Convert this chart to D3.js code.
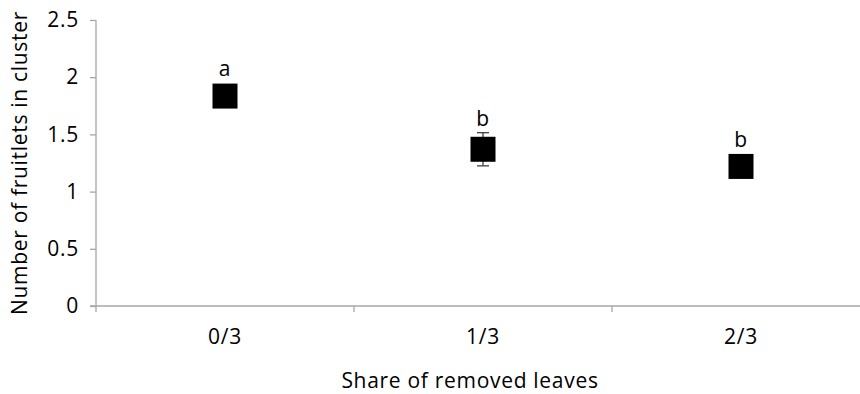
<!DOCTYPE html>
<html>
<head>
<meta charset="utf-8">
<script src="https://cdn.jsdelivr.net/npm/d3@7"></script>
<style>
  body { margin: 0; background: #fff; }
  text { font-family: "Open Sans", sans-serif; fill: #000; letter-spacing: 0.7px; }
</style>
</head>
<body>
<svg id="chart" width="860" height="394"></svg>
<script>
// data
var shares = ["0/3", "1/3", "2/3"];
var fruitlets = [1.835, 1.37, 1.22];
var errors = [0.04, 0.145, 0.05];
var letters = ["a", "b", "b"];
var yTicks = [0, 0.5, 1, 1.5, 2, 2.5];

var svg = d3.select("#chart");

// LAYOUT
var margin = { top: 20, left: 96 };
var plotH = 286;
var bandW = 258;
var fs = "21px";

var g = svg.append("g")
	.attr("transform", "translate(" + margin.left + "," + margin.top + ")");

var yScale = d3.scaleLinear()
	.domain([0, 2.5])
	.range([plotH, 0]);

var xScale = d3.scaleBand()
	.domain(shares)
	.range([0, bandW * shares.length]);

// y axis
var yAxis = d3.axisLeft(yScale)
	.tickValues(yTicks)
	.tickSize(6)
	.tickPadding(11)
	.tickFormat(d3.format("~g"));

var ya = g.append("g").call(yAxis);
ya.select(".domain").attr("stroke", "#a6a6a6").attr("stroke-width", 1.3)
	.attr("d", "M0," + plotH + "V0");
ya.selectAll(".tick line").attr("stroke", "#a6a6a6").attr("stroke-width", 1.3);
ya.selectAll(".tick text").style("font-size", fs).attr("fill", "#000");

// x axis, ticks on band edges
var xa = g.append("g")
	.attr("transform", "translate(0," + plotH + ")");
xa.append("line")
	.attr("x1", -6).attr("x2", bandW * shares.length)
	.attr("stroke", "#a6a6a6").attr("stroke-width", 1.3);
xa.selectAll("line.edge")
	.data(shares)
	.enter()
	.append("line")
	.attr("class", "edge")
	.attr("x1", (d) => xScale(d)).attr("x2", (d) => xScale(d))
	.attr("y1", 0).attr("y2", 6)
	.attr("stroke", "#a6a6a6").attr("stroke-width", 1.3);
xa.selectAll("text")
	.data(shares)
	.enter()
	.append("text")
	.attr("x", (d) => xScale(d) + xScale.bandwidth() / 2)
	.attr("y", 38)
	.attr("text-anchor", "middle")
	.style("font-size", fs)
	.text((d) => d);

// error bars
var cx = (i) => xScale(shares[i]) + xScale.bandwidth() / 2;
var eb = g.selectAll("g.err")
	.data(fruitlets)
	.enter()
	.append("g")
	.attr("class", "err")
	.attr("stroke", "#404040")
	.attr("stroke-width", 1.3);
eb.append("line")
	.attr("x1", (d, i) => cx(i)).attr("x2", (d, i) => cx(i))
	.attr("y1", (d, i) => yScale(d + errors[i]))
	.attr("y2", (d, i) => yScale(d - errors[i]));
eb.append("line")
	.attr("x1", (d, i) => cx(i) - 6).attr("x2", (d, i) => cx(i) + 6)
	.attr("y1", (d, i) => yScale(d + errors[i]))
	.attr("y2", (d, i) => yScale(d + errors[i]));
eb.append("line")
	.attr("x1", (d, i) => cx(i) - 6).attr("x2", (d, i) => cx(i) + 6)
	.attr("y1", (d, i) => yScale(d - errors[i]))
	.attr("y2", (d, i) => yScale(d - errors[i]));

// square markers
var sz = 25;
g.selectAll("rect.pt")
	.data(fruitlets)
	.enter()
	.append("rect")
	.attr("class", "pt")
	.attr("x", (d, i) => cx(i) - sz / 2)
	.attr("y", (d) => yScale(d) - sz / 2)
	.attr("width", sz)
	.attr("height", sz)
	.attr("fill", "#000");

// significance letters
g.selectAll("text.letter")
	.data(fruitlets)
	.enter()
	.append("text")
	.attr("class", "letter")
	.attr("x", (d, i) => cx(i))
	.attr("y", (d, i) => yScale(d + Math.max(errors[i], 0.11)) - 7)
	.attr("text-anchor", "middle")
	.style("font-size", fs)
	.text((d, i) => letters[i]);

// axis titles
svg.append("text")
	.attr("transform", "translate(27,163) rotate(-90)")
	.attr("text-anchor", "middle")
	.style("font-size", fs)
	.text("Number of fruitlets in cluster");

svg.append("text")
	.attr("x", 470)
	.attr("y", 388)
	.attr("text-anchor", "middle")
	.style("font-size", fs)
	.text("Share of removed leaves");
</script>
</body>
</html>
